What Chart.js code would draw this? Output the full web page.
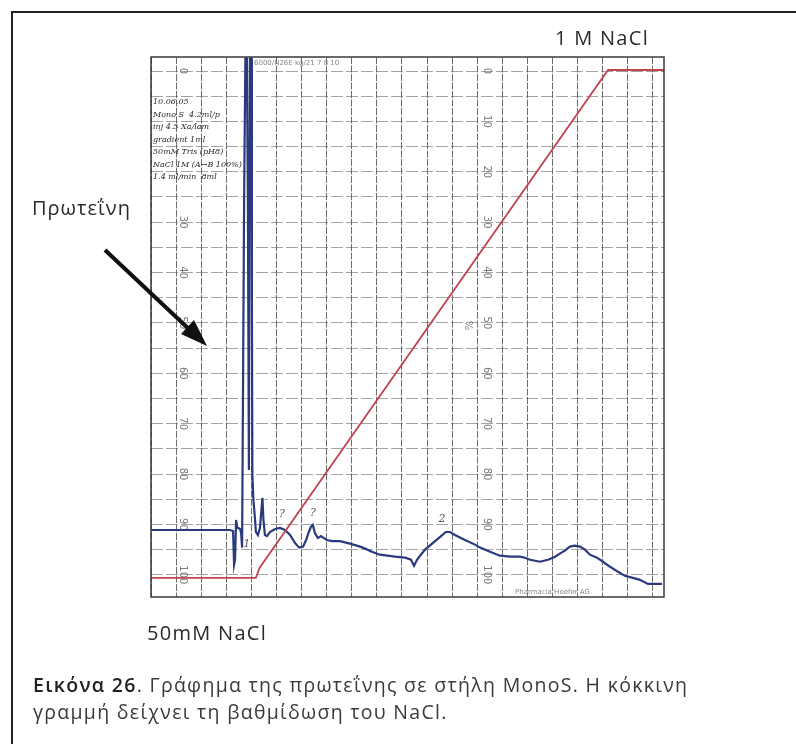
<!DOCTYPE html>
<html>
<head>
<meta charset="utf-8">
<script src="https://cdn.jsdelivr.net/npm/chart.js@4/dist/chart.umd.min.js"></script>
<style>
  html, body { margin: 0; padding: 0; background: #fff; }
  body { width: 796px; height: 744px; position: relative; overflow: hidden; font-family: "Open Sans", "Noto Sans", sans-serif; color: #2a2a2a; }
  #frame { position: absolute; left: 11px; top: 11px; width: 800px; height: 800px; border-left: 2.5px solid #222; border-top: 2.5px solid #222; }
  #chartCanvas { position: absolute; left: 0; top: 0; }
  .lbl { position: absolute; white-space: nowrap; font-size: 20px; letter-spacing: 1.3px; }
  #caption { position: absolute; left: 33px; top: 671px; font-size: 19.5px; line-height: 27px; color: #3a3a3a; letter-spacing: 1.3px; white-space: nowrap; }
  #caption b { font-weight: 600; color: #222; }
</style>
</head>
<body>
<div id="frame"></div>
<canvas id="chartCanvas" width="796" height="744"></canvas>
<div class="lbl" style="left:555px; top:24px;">1 M NaCl</div>
<div class="lbl" style="left:32px; top:194px; letter-spacing:1px;">Πρωτεΐνη</div>
<div class="lbl" style="left:147px; top:619px;">50mM NaCl</div>
<div id="caption"><b>Εικόνα 26</b>. Γράφημα της πρωτεΐνης σε στήλη MonoS. Η κόκκινη<br>γραμμή δείχνει τη βαθμίδωση του NaCl.</div>

<script>
// chart paper units: x = grid division, y = paper % scale (0 at top)
const gridX = [0, 1, 2, 3, 4, 5, 6, 7, 8, 9, 10, 11, 12, 13, 14, 15, 16, 17, 18, 19, 20];
const gridY = [0, 5, 10, 15, 20, 25, 30, 35, 40, 45, 50, 55, 60, 65, 70, 75, 80, 85, 90, 95, 100];
const paperLabels = ['0', '10', '20', '30', '40', '50', '60', '70', '80', '90', '100'];
const paperLabelPos = [0, 10, 20, 30, 40, 50, 60, 70, 80, 90, 100];

// absorbance trace (blue)
const traceX = [0, 1.95, 3.15, 3.27, 3.31, 3.35, 3.39, 3.43, 3.47, 3.55, 3.59, 3.63, 3.67, 3.71, 3.76, 3.82, 3.86, 3.90, 3.94, 4.00, 4.02, 4.04,
    4.08, 4.14, 4.18, 4.26, 4.34, 4.40, 4.44, 4.48, 4.54, 4.62, 4.74, 4.94, 5.14, 5.34, 5.54, 5.74, 5.90, 6.06, 6.18, 6.29, 6.37, 6.45,
    6.53, 6.65, 6.77, 6.89, 7.01, 7.21, 7.53, 7.93, 8.33, 8.53, 8.80, 9.12, 9.72, 10.12, 10.36, 10.48, 10.60, 10.72, 10.92, 11.20, 11.51,
    11.75, 11.91, 12.11, 12.51, 12.91, 13.11, 13.51, 13.90, 14.30, 14.70, 14.90, 15.10, 15.50, 15.82, 16.10, 16.29, 16.49, 16.69, 16.89,
    17.09, 17.29, 17.49, 17.77, 18.01, 18.29, 18.61, 18.88, 19.20, 19.48, 19.80, 20.36];
const traceY = [91.1, 91.1, 91.1, 91.3, 98.0, 97.0, 89.1, 90.5, 90.7, 90.9, 91.7, 94.6, 60.0, 25.6, -2.5, -2.5, 25.6, 79.2, -2.5, -2.5, 45.4, 80.2,
    85.1, 88.7, 91.5, 92.1, 90.7, 87.1, 84.7, 89.1, 92.1, 92.3, 91.5, 90.9, 90.7, 91.1, 92.1, 93.7, 94.6, 94.4, 93.1, 91.5, 90.5, 90.1,
    91.7, 92.7, 92.3, 92.7, 93.1, 93.3, 93.3, 93.8, 94.4, 94.8, 95.4, 96.0, 96.4, 96.6, 97.0, 98.2, 97.0, 96.2, 95.0, 93.8, 92.5,
    91.5, 91.5, 92.1, 93.1, 94.0, 94.6, 95.4, 96.2, 96.4, 96.4, 96.6, 97.0, 97.4, 97.0, 96.4, 95.8, 95.2, 94.4, 94.2,
    94.4, 95.0, 96.0, 96.6, 97.4, 98.4, 99.4, 100.2, 100.6, 101.0, 101.8, 101.8];

// NaCl gradient (red)
const gradientX = [0, 4.18, 4.33, 18.21, 20.44];
const gradientY = [100.6, 100.6, 98.6, -0.2, -0.2];

// handwritten peak marks on the trace
const markText = ['1', '?', '?', '2'];
const markX = [3.82, 5.22, 6.45, 11.59];
const markY = [94.5, 88.5, 88.3, 89.5];

const notes = ['10.06.05', 'Mono S  4.2ml/p', 'inj 4.5 Xa/lam', 'gradient 1ml', '50mM Tris (pH8)', 'NaCl 1M (A→B 100%)', '1.4 ml/min  8ml'];

const toPoints = (xs, ys) => xs.map((x, i) => ({ x: x, y: ys[i] }));

const paperPlugin = {
    id: 'paper',
    beforeDatasetsDraw(chart) {
        const { ctx, chartArea, scales } = chart;
        ctx.save();
        // rotated paper numbers
        ctx.fillStyle = '#7a7a7a';
        ctx.font = '10px "DejaVu Sans"';
        ctx.textAlign = 'center';
        ctx.textBaseline = 'middle';
        paperLabelPos.forEach((v, i) => {
            const cols = i === 1 || i === 2 ? [13.38] : [1.27, 13.38];
            cols.forEach(c => {
                ctx.save();
                ctx.translate(scales.x.getPixelForValue(c), scales.y.getPixelForValue(v));
                ctx.rotate(Math.PI / 2);
                ctx.fillText(paperLabels[i], 0, 0);
                ctx.restore();
            });
        });
        ctx.save();
        ctx.translate(scales.x.getPixelForValue(12.6), scales.y.getPixelForValue(50.5));
        ctx.rotate(Math.PI / 2);
        ctx.fillText('%', 0, 0);
        ctx.restore();
        // handwritten notes
        ctx.fillStyle = '#2a2a2a';
        ctx.textAlign = 'left';
        ctx.font = 'italic 8px "DejaVu Serif"';
        notes.forEach((t, i) => ctx.fillText(t, chartArea.left + 2, 102 + i * 12.5));
        ctx.fillStyle = '#888';
        ctx.font = '7px "DejaVu Sans"';
        ctx.fillText('6000/N26E·kg/21 7 8 10', 254, 63);
        ctx.fillText('Pharmacia Hoefer AG', 515, 592);
        ctx.restore();
    },
    afterDraw(chart) {
        const { ctx, chartArea, scales } = chart;
        ctx.save();
        ctx.strokeStyle = '#3a3a3a';
        ctx.lineWidth = 1.5;
        ctx.strokeRect(chartArea.left, chartArea.top, chartArea.right - chartArea.left, chartArea.bottom - chartArea.top);
        ctx.fillStyle = '#555';
        ctx.font = 'italic 11px "DejaVu Serif"';
        ctx.textAlign = 'center';
        markText.forEach((t, i) => ctx.fillText(t, scales.x.getPixelForValue(markX[i]), scales.y.getPixelForValue(markY[i])));
        // arrow pointing to the protein peak
        ctx.strokeStyle = '#111';
        ctx.fillStyle = '#111';
        ctx.lineWidth = 4;
        ctx.beginPath();
        ctx.moveTo(105, 250);
        ctx.lineTo(192, 332);
        ctx.stroke();
        ctx.beginPath();
        ctx.moveTo(207, 346);
        ctx.lineTo(181, 334);
        ctx.lineTo(194, 320);
        ctx.closePath();
        ctx.fill();
        ctx.restore();
    }
};

const canvas = document.getElementById('chartCanvas');
new Chart(canvas, {
    type: 'scatter',
    data: {
        datasets: [
            {
                label: 'NaCl',
                data: toPoints(gradientX, gradientY),
                showLine: true,
                borderColor: '#bf4650',
                borderWidth: 1.8,
                pointRadius: 0,
                tension: 0
            },
            {
                label: 'A280',
                data: toPoints(traceX, traceY),
                showLine: true,
                borderColor: '#2b3a7d',
                borderWidth: 2.2,
                pointRadius: 0,
                tension: 0
            }
        ]
    },
    options: {
        responsive: false,
        animation: false,
        events: [],
        layout: { padding: { left: 151, top: 57, right: 132, bottom: 147 } },
        plugins: { legend: { display: false }, tooltip: { enabled: false } },
        scales: {
            x: {
                type: 'linear',
                min: 0,
                max: 20.44,
                afterBuildTicks: (axis) => { axis.ticks = gridX.map(v => ({ value: v })); },
                ticks: { display: false },
                grid: { color: 'rgba(60,60,60,0.75)', lineWidth: 1, drawTicks: false },
                border: { display: false, dash: [7, 1.5] }
            },
            y: {
                type: 'linear',
                reverse: true,
                min: -2.78,
                max: 104.4,
                afterBuildTicks: (axis) => { axis.ticks = gridY.map(v => ({ value: v })); },
                ticks: { display: false },
                grid: { color: 'rgba(90,90,90,0.55)', lineWidth: 1, drawTicks: false },
                border: { display: false, dash: [12, 3] }
            }
        }
    },
    plugins: [paperPlugin]
});
</script>
</body>
</html>
